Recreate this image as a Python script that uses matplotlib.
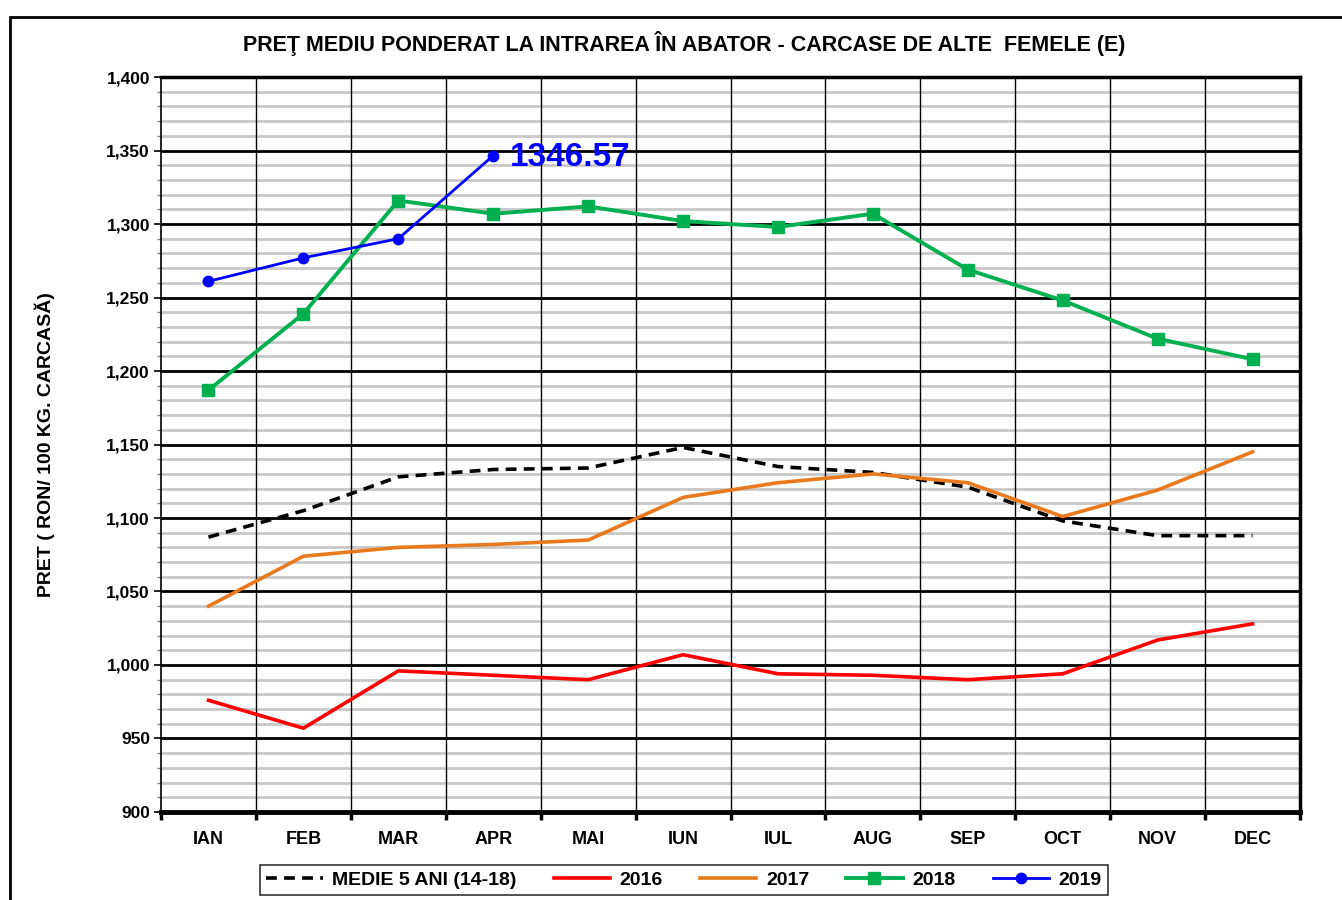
import matplotlib
matplotlib.use("Agg")
import matplotlib.pyplot as plt
from matplotlib.patches import Rectangle
import numpy as np

months = ["IAN", "FEB", "MAR", "APR", "MAI", "IUN", "IUL", "AUG", "SEP", "OCT", "NOV", "DEC"]
medie = [1087, 1105, 1128, 1133, 1134, 1148, 1135, 1131, 1121, 1098, 1088, 1088]
y2016 = [976, 957, 996, 993, 990, 1007, 994, 993, 990, 994, 1017, 1028]
y2017 = [1040, 1074, 1080, 1082, 1085, 1114, 1124, 1130, 1124, 1101, 1119, 1145]
y2018 = [1187, 1239, 1316, 1307, 1312, 1302, 1298, 1307, 1269, 1248, 1222, 1208]
y2019 = [1261, 1277, 1290, 1346.57]
last_label = "1346.57"

plt.rcParams['font.family'] = ['Liberation Sans', 'DejaVu Sans']

fig = plt.figure(figsize=(13.42, 9.0), dpi=100)
ax = fig.add_axes([0.12, 0.0978, 0.8487, 0.8166])

# outer chart frame
fig.patches.append(Rectangle((10/1342, -0.01), 1.2, (900-17)/900 + 0.01, transform=fig.transFigure,
                             fill=False, edgecolor='black', linewidth=2.0, zorder=0))

x = np.arange(len(months))
ax.plot(x, medie, color='black', linestyle=(0, (3, 2)), linewidth=2.6, label='MEDIE 5 ANI (14-18)', zorder=5)
ax.plot(x, y2016, color='#FF0000', linewidth=2.6, label='2016', zorder=5)
ax.plot(x, y2017, color='#E8791C', linewidth=2.6, label='2017', zorder=5)
ax.plot(x, y2018, color='#00B050', linewidth=2.8, marker='s', markersize=8, label='2018', zorder=6)
ax.plot(x[:len(y2019)], y2019, color='#0000FF', linewidth=2.0, marker='o', markersize=7.5, label='2019', zorder=7)

ax.annotate(last_label, xy=(len(y2019) - 1, y2019[-1]), xytext=(12, -1.5), textcoords='offset points',
            color='#0000FF', fontsize=24, fontweight='bold', va='center', ha='left', zorder=8)

ax.set_xlim(-0.5, 11.5)
ax.set_ylim(900, 1400)
ax.set_yticks(np.arange(900, 1401, 50))
ax.set_yticks(np.arange(900, 1401, 10), minor=True)
ax.set_yticklabels([f"{v:,}" for v in range(900, 1401, 50)], fontsize=12.5, fontweight='bold')
ax.set_xticks(x)
ax.set_xticklabels(months, fontsize=13, fontweight='bold')
bounds = np.arange(-0.5, 12, 1)
ax.set_xticks(bounds, minor=True)

ax.tick_params(axis='x', which='major', length=0, pad=14)
ax.tick_params(axis='x', which='minor', length=6, width=2.5, direction='out')
ax.tick_params(axis='y', which='major', length=5, width=1.2, direction='out', pad=3)
ax.tick_params(axis='y', which='minor', length=3, width=1.0, direction='out', color='#808080')

ax.grid(axis='y', which='minor', color='#C8C8C8', linewidth=2.0, zorder=1)
ax.grid(axis='y', which='major', color='black', linewidth=2.0, zorder=2)
ax.grid(axis='x', visible=False)
ax.set_axisbelow(True)
ax.vlines(bounds[1:-1], 900, 1400, colors='black', linewidth=1.0, zorder=2.5)

ax.spines['bottom'].set_linewidth(3.5)
ax.spines['top'].set_linewidth(2.5)
ax.spines['right'].set_linewidth(2.5)
ax.spines['left'].set_linewidth(1.2)

ax.set_ylabel("PRET ( RON/ 100 KG. CARCASĂ)", fontsize=14, fontweight='bold')
ax.yaxis.set_label_coords(-0.093, 0.5)

fig.text(684/1342, 1 - 43/900, "PREŢ MEDIU PONDERAT LA INTRAREA ÎN ABATOR - CARCASE DE ALTE  FEMELE (E)",
         ha='center', va='center', fontsize=15.5, fontweight='bold')

leg = fig.legend(loc='center', bbox_to_anchor=(684/1342, 1 - 880/900), ncol=5, frameon=True,
                 fancybox=False, edgecolor='black', prop={'weight': 'bold', 'size': 14},
                 handlelength=2.9, columnspacing=1.9, handletextpad=0.5, borderpad=0.3)
leg.get_frame().set_linewidth(1.2)

fig.savefig("out.png", dpi=100)
